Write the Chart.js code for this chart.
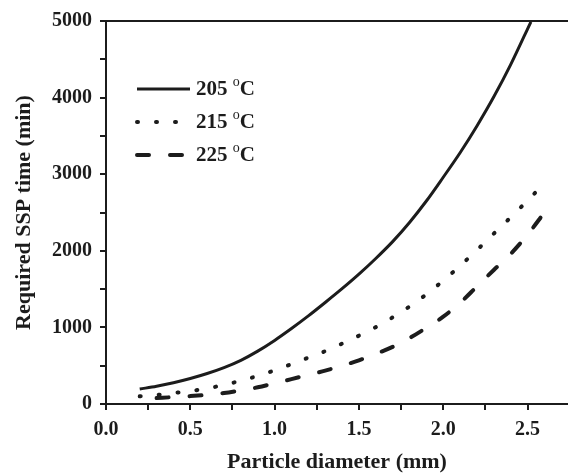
<!DOCTYPE html>
<html>
<head>
<meta charset="utf-8">
<script src="https://cdn.jsdelivr.net/npm/chart.js@4.4.1/dist/chart.umd.min.js"></script>
<style>
  html, body { margin: 0; padding: 0; background: #fff; }
  #wrap { width: 568px; height: 476px; }
</style>
</head>
<body>
<div id="wrap"><canvas id="chart"></canvas></div>
<script>
// particle diameter (mm) and required SSP time (min) per temperature
const d205 = [0.2, 0.3, 0.4, 0.5, 0.6, 0.7, 0.8, 0.9, 1.0, 1.1, 1.2, 1.3, 1.4, 1.5, 1.6, 1.7, 1.8, 1.9, 2.0, 2.1, 2.2, 2.3, 2.4, 2.52];
const t205 = [195, 232, 278, 333, 398, 475, 570, 690, 830, 985, 1150, 1325, 1505, 1695, 1900, 2120, 2370, 2650, 2960, 3280, 3630, 4010, 4430, 4990];

const d215 = [0.2, 0.3, 0.4, 0.5, 0.6, 0.7, 0.8, 0.9, 1.0, 1.1, 1.2, 1.3, 1.4, 1.5, 1.6, 1.7, 1.8, 1.9, 2.0, 2.1, 2.2, 2.3, 2.4, 2.5, 2.6];
const t215 = [100, 118, 143, 170, 203, 250, 304, 368, 440, 520, 605, 690, 788, 892, 1003, 1131, 1272, 1432, 1611, 1804, 2010, 2224, 2437, 2655, 2880];

const d225 = [0.3, 0.4, 0.5, 0.6, 0.7, 0.8, 0.9, 1.0, 1.1, 1.2, 1.3, 1.4, 1.5, 1.6, 1.7, 1.8, 1.9, 2.0, 2.1, 2.2, 2.3, 2.4, 2.5, 2.6];
const t225 = [78, 90, 103, 120, 143, 178, 218, 270, 325, 380, 435, 500, 570, 655, 745, 860, 995, 1140, 1320, 1535, 1750, 1960, 2210, 2500];

const seriesLabels = ['205', '215', '225'];

const INK = '#1c1c1c';
const SERIF = '"Liberation Serif", "Times New Roman", serif';

const toPoints = (xs, ys) => xs.map((x, i) => ({ x, y: ys[i] }));

// top frame line plus the in-plot legend with superscript degree marks
const frameAndLegend = {
  id: 'frameAndLegend',
  afterDraw(chart) {
    const { ctx, chartArea } = chart;
    ctx.save();
    ctx.strokeStyle = INK;
    ctx.lineWidth = 2;
    ctx.beginPath();
    ctx.moveTo(chartArea.left, chartArea.top);
    ctx.lineTo(chartArea.right, chartArea.top);
    ctx.stroke();

    const x0 = chartArea.left + 31;
    const x1 = x0 + 53;
    chart.data.datasets.forEach((ds, i) => {
      const y = chartArea.top + 68 + i * 33;
      ctx.strokeStyle = INK;
      ctx.lineWidth = ds.borderWidth;
      ctx.lineCap = ds.borderCapStyle || 'butt';
      ctx.setLineDash(ds.borderDash || []);
      ctx.beginPath();
      ctx.moveTo(x0, y);
      ctx.lineTo(x1, y);
      ctx.stroke();
      ctx.setLineDash([]);

      ctx.fillStyle = INK;
      ctx.textBaseline = 'middle';
      ctx.font = 'bold 21px ' + SERIF;
      const num = ds.label + ' ';
      ctx.fillText(num, x1 + 6, y + 1);
      let tx = x1 + 6 + ctx.measureText(num).width;
      ctx.font = '14px ' + SERIF;
      ctx.fillText('o', tx, y - 7);
      tx += ctx.measureText('o').width;
      ctx.font = 'bold 21px ' + SERIF;
      ctx.fillText('C', tx, y + 1);
    });
    ctx.restore();
  }
};

new Chart(document.getElementById('chart').getContext('2d'), {
  type: 'line',
  data: {
    datasets: [
      {
        label: seriesLabels[0],
        data: toPoints(d205, t205),
        borderColor: INK,
        borderWidth: 3,
        pointRadius: 0,
        cubicInterpolationMode: 'monotone'
      },
      {
        label: seriesLabels[1],
        data: toPoints(d215, t215),
        borderColor: INK,
        borderWidth: 4,
        borderDash: [1, 18],
        borderCapStyle: 'round',
        pointRadius: 0,
        cubicInterpolationMode: 'monotone'
      },
      {
        label: seriesLabels[2],
        data: toPoints(d225, t225),
        borderColor: INK,
        borderWidth: 4,
        borderDash: [12, 21],
        borderCapStyle: 'round',
        pointRadius: 0,
        cubicInterpolationMode: 'monotone'
      }
    ]
  },
  options: {
    responsive: true,
    maintainAspectRatio: false,
    animation: false,
    layout: { padding: { top: 21, right: 0, bottom: 0, left: 0 } },
    scales: {
      x: {
        type: 'linear',
        min: 0,
        max: 2.74,
        afterFit: s => { s.height = 72; },
        border: { display: true, color: INK, width: 2 },
        grid: { drawOnChartArea: false, drawTicks: true, tickLength: 6, color: INK, lineWidth: 2 },
        ticks: {
          stepSize: 0.25,
          includeBounds: false,
          autoSkip: false,
          maxRotation: 0,
          padding: 8,
          color: INK,
          font: { family: SERIF, size: 20, weight: 'bold' },
          callback: v => (Math.abs(v * 2 - Math.round(v * 2)) < 1e-6 ? v.toFixed(1) : '')
        },
        title: {
          display: true,
          text: 'Particle diameter (mm)',
          color: INK,
          font: { family: SERIF, size: 22, weight: 'bold' },
          padding: { top: 0, bottom: 0 }
        }
      },
      y: {
        min: 0,
        max: 5000,
        afterFit: s => { s.width = 106; },
        border: { display: true, color: INK, width: 2 },
        grid: { drawOnChartArea: false, drawTicks: true, tickLength: 6, color: INK, lineWidth: 2 },
        ticks: {
          stepSize: 500,
          autoSkip: false,
          padding: 8,
          color: INK,
          font: { family: SERIF, size: 20, weight: 'bold' },
          callback: v => (v % 1000 === 0 ? String(v) : '')
        },
        title: {
          display: true,
          text: 'Required SSP time (min)',
          color: INK,
          font: { family: SERIF, size: 22, weight: 'bold' },
          padding: { top: 11, bottom: 0 }
        }
      }
    },
    plugins: {
      legend: { display: false },
      tooltip: { enabled: false }
    }
  },
  plugins: [frameAndLegend]
});
</script>
</body>
</html>
